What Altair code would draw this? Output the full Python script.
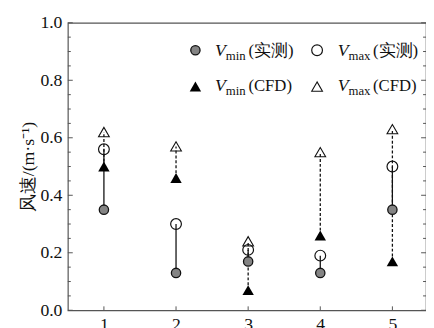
import altair as alt
import pandas as pd

# ---- data ----
positions = [1, 2, 3, 4, 5]
vmin_measured = [0.35, 0.13, 0.17, 0.13, 0.35]
vmax_measured = [0.56, 0.30, 0.21, 0.19, 0.50]
vmin_cfd = [0.50, 0.46, 0.07, 0.26, 0.17]
vmax_cfd = [0.62, 0.57, 0.24, 0.55, 0.63]

x_tick_values = [1, 2, 3, 4, 5]
y_major_ticks = [0.0, 0.2, 0.4, 0.6, 0.8, 1.0]
y_minor_ticks = [0.05, 0.1, 0.15, 0.25, 0.3, 0.35, 0.45, 0.5, 0.55,
                 0.65, 0.7, 0.75, 0.85, 0.9, 0.95]

FONT = "Liberation Serif"
INK = "#111111"
FRAME = "#555555"
W, H = 365, 293

df = pd.DataFrame({
    "pos": positions,
    "vmin_m": vmin_measured,
    "vmax_m": vmax_measured,
    "vmin_c": vmin_cfd,
    "vmax_c": vmax_cfd,
})

xscale = alt.Scale(domain=[0.5, 5.466], nice=False, zero=False)
yscale = alt.Scale(domain=[0.0, 1.0], nice=False, zero=False)

x_axis = alt.Axis(values=x_tick_values, format="d", tickSize=0, domain=False,
                  grid=False, labelFont=FONT, labelFontSize=18, labelColor=INK,
                  labelPadding=6, title=None)
y_axis = alt.Axis(values=y_major_ticks, format=".1f", tickSize=0, domain=False,
                  grid=False, labelFont=FONT, labelFontSize=18, labelColor=INK,
                  labelPadding=6, title="风速/(m·s⁻¹)", titleFont=FONT,
                  titleFontSize=18, titleFontWeight="normal", titleColor=INK,
                  titleAngle=-90, titleX=-40, titleY=H / 2,
                  titleAlign="center", titleBaseline="middle")


def X(field):
    return alt.X(f"{field}:Q", scale=xscale, axis=x_axis)


def Y(field):
    return alt.Y(f"{field}:Q", scale=yscale, axis=y_axis)


base = alt.Chart(df)

solid = base.mark_rule(color=INK, strokeWidth=1.3).encode(
    x=X("pos"), y=Y("vmin_m"), y2="vmax_m:Q")
dashed = base.mark_rule(color=INK, strokeWidth=1.3, strokeDash=[3, 2]).encode(
    x=X("pos"), y=Y("vmin_c"), y2="vmax_c:Q")


def pts(field, **mk):
    return base.mark_point(opacity=1, **mk).encode(x=X("pos"), y=Y(field))


gray_c = pts("vmin_m", shape="circle", filled=True, fill="#848484", stroke=INK,
             strokeWidth=1.3, size=90)
open_c = pts("vmax_m", shape="circle", filled=False, stroke=INK,
             strokeWidth=1.2, size=120)
fill_t = pts("vmin_c", shape="triangle-up", filled=True, fill="#000000",
             size=135)
open_t = pts("vmax_c", shape="triangle-up", filled=False, stroke=INK,
             strokeWidth=1.1, size=120)

# ---- inward axis ticks (left, right, bottom) ----
ymaj = pd.DataFrame({"v": y_major_ticks})
ymin = pd.DataFrame({"v": y_minor_ticks})
xt = pd.DataFrame({"v": x_tick_values})


def ytick(d, x1, x2):
    return alt.Chart(d).mark_rule(color=FRAME, strokeWidth=1).encode(
        y=Y("v"), x=alt.value(x1), x2=alt.value(x2))


ticks = [
    ytick(ymaj, 0, 5), ytick(ymin, 0, 3),
    ytick(ymaj, W - 5, W), ytick(ymin, W - 3, W),
    alt.Chart(xt).mark_rule(color=FRAME, strokeWidth=1).encode(
        x=X("v"), y=alt.value(H - 4), y2=alt.value(H)),
]

# ---- legend drawn inside the plot ----
one = alt.Data(values=[{"k": 0}])


def sym(x, y, **mk):
    return alt.Chart(one).mark_point(opacity=1, **mk).encode(
        x=alt.value(x), y=alt.value(y))


def txt(x, y, s, size=18, style="normal"):
    return alt.Chart(one).mark_text(text=s, font=FONT, fontSize=size,
                                    fontStyle=style, color=INK, align="left",
                                    baseline="alphabetic").encode(
        x=alt.value(x), y=alt.value(y))


legend = [
    sym(130, 28, shape="circle", filled=True, fill="#848484", stroke=INK,
        strokeWidth=1.3, size=90),
    sym(254, 28, shape="circle", filled=False, stroke=INK, strokeWidth=1.2,
        size=120),
    sym(130, 65, shape="triangle-up", filled=True, fill="#000000", size=135),
    sym(254, 65, shape="triangle-up", filled=False, stroke=INK,
        strokeWidth=1.1, size=120),
    txt(150, 34, "V", 18, "italic"), txt(161, 37.5, "min", 13),
    txt(184, 34, "(实测)", 17),
    txt(275, 34, "V", 18, "italic"), txt(286, 37.5, "max", 13),
    txt(311, 34, "(实测)", 17),
    txt(150, 70, "V", 18, "italic"), txt(161, 73.5, "min", 13),
    txt(184, 70, "(CFD)", 17),
    txt(275, 70, "V", 18, "italic"), txt(286, 73.5, "max", 13),
    txt(311, 70, "(CFD)", 17),
]

chart = alt.layer(solid, dashed, *ticks, gray_c, open_c, fill_t, open_t,
                  *legend).properties(
    width=W, height=H,
    autosize=alt.AutoSizeParams(type="none"),
    padding={"left": 61, "top": 12, "right": 0, "bottom": 15},
    background="white",
).configure(font=FONT).configure_axis(
    labelFont=FONT, titleFont=FONT
).configure_view(stroke=FRAME, strokeWidth=1.2)

chart.save("out.html", embed_options={"renderer": "svg", "actions": False})
